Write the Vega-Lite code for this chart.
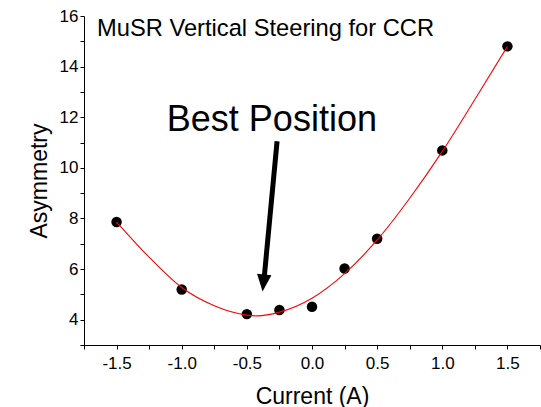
{
  "$schema": "https://vega.github.io/schema/vega-lite/v6.json",
  "autosize": {"type": "none"},
  "width": 456,
  "height": 329,
  "padding": {"left": 84, "top": 16, "right": 1, "bottom": 62},
  "background": "white",
  "config": {
    "view": {"stroke": null},
    "font": "Liberation Sans",
    "axis": {"grid": false, "domainColor": "black", "tickColor": "black", "labelColor": "black", "titleColor": "black", "labelFont": "Liberation Sans", "titleFont": "Liberation Sans", "titleFontWeight": "normal", "domainWidth": 1, "tickWidth": 1}
  },
  "datasets": {
    "fit": [
      {"x": -1.5, "y": 7.86},
      {"x": -1.25, "y": 6.47},
      {"x": -1.0, "y": 5.27},
      {"x": -0.75, "y": 4.55},
      {"x": -0.5, "y": 4.18},
      {"x": -0.42, "y": 4.15},
      {"x": -0.25, "y": 4.3},
      {"x": 0.0, "y": 4.85},
      {"x": 0.25, "y": 5.82},
      {"x": 0.5, "y": 7.15},
      {"x": 0.75, "y": 8.8},
      {"x": 1.0, "y": 10.65},
      {"x": 1.25, "y": 12.7},
      {"x": 1.5, "y": 14.8}
    ],
    "pts": [
      {"x": -1.5, "y": 7.86},
      {"x": -1.0, "y": 5.19},
      {"x": -0.5, "y": 4.22},
      {"x": -0.25, "y": 4.38},
      {"x": 0.0, "y": 4.51},
      {"x": 0.25, "y": 6.02},
      {"x": 0.5, "y": 7.2},
      {"x": 1.0, "y": 10.69},
      {"x": 1.5, "y": 14.8}
    ],
    "arrow": [
      {"x": -0.268, "y": 11.05, "x2": -0.368, "y2": 5.6}
    ],
    "head": [
      {"x": -0.373, "y": 5.45}
    ],
    "labels": [
      {"x": -1.65, "y": 15.19, "text": "MuSR Vertical Steering for CCR", "kind": "title"},
      {"x": -0.308, "y": 11.44, "text": "Best Position", "kind": "big"}
    ]
  },
  "encoding": {
    "x": {"field": "x", "type": "quantitative",
      "scale": {"domain": [-1.75, 1.75], "nice": false, "zero": false},
      "axis": {"title": "Current (A)", "titleFontSize": 23, "titlePadding": 14, "labelFontSize": 17, "tickSize": 4, "labelPadding": 6,
        "values": [-1.75, -1.5, -1.25, -1.0, -0.75, -0.5, -0.25, 0, 0.25, 0.5, 0.75, 1.0, 1.25, 1.5, 1.75],
        "labelExpr": "(abs(datum.value) < 1.6 && abs(datum.value*2 - round(datum.value*2)) < 0.01) ? replace(format(datum.value, '.1f'), '\u2212', '-') : ''",
        "labelFlush": false, "labelOverlap": false}},
    "y": {"field": "y", "type": "quantitative",
      "scale": {"domain": [3, 16], "nice": false, "zero": false},
      "axis": {"title": "Asymmetry", "titleFontSize": 23, "titlePadding": 8, "labelFontSize": 17, "tickSize": 4, "labelPadding": 2,
        "values": [3, 4, 5, 6, 7, 8, 9, 10, 11, 12, 13, 14, 15, 16],
        "labelExpr": "datum.value % 2 == 0 ? datum.label : ''",
        "labelFlush": false, "labelOverlap": false}}
  },
  "layer": [
    {
      "data": {"name": "pts"},
      "mark": {"type": "point", "filled": true, "color": "black", "size": 110, "opacity": 1}
    },
    {
      "data": {"name": "fit"},
      "mark": {"type": "line", "color": "#ff0000", "strokeWidth": 1.1, "interpolate": "monotone"}
    },
    {
      "data": {"name": "arrow"},
      "mark": {"type": "rule", "color": "black", "strokeWidth": 5},
      "encoding": {
        "x2": {"field": "x2"},
        "y2": {"field": "y2"}
      }
    },
    {
      "data": {"name": "head"},
      "mark": {"type": "point", "filled": true, "color": "black", "opacity": 1, "shape": "M-0.85,-1L0.85,-1L0,1Z", "size": 289, "angle": 5.7}
    },
    {
      "data": {"name": "labels"},
      "transform": [{"filter": "datum.kind == 'title'"}],
      "mark": {"type": "text", "align": "left", "baseline": "alphabetic", "fontSize": 23.7, "color": "black", "font": "Liberation Sans"},
      "encoding": {"text": {"field": "text"}}
    },
    {
      "data": {"name": "labels"},
      "transform": [{"filter": "datum.kind == 'big'"}],
      "mark": {"type": "text", "align": "center", "baseline": "alphabetic", "fontSize": 36, "color": "black", "font": "Liberation Sans"},
      "encoding": {"text": {"field": "text"}}
    }
  ]
}
